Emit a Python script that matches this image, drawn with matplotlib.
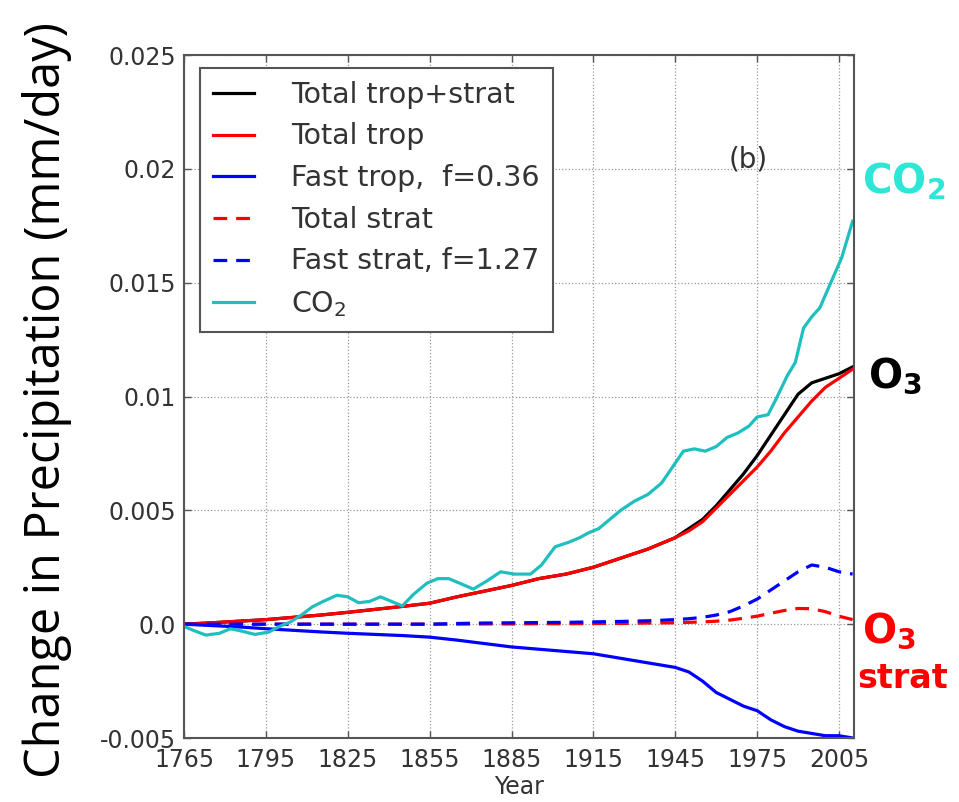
import matplotlib
matplotlib.use("Agg")
import matplotlib.pyplot as plt

# years for the smooth series
years = [1765, 1775, 1785, 1795, 1805, 1815, 1825, 1835, 1845, 1855, 1865,
         1875, 1885, 1895, 1905, 1915, 1925, 1935, 1945, 1950, 1955, 1960,
         1965, 1970, 1975, 1980, 1985, 1990, 1995, 2000, 2005, 2010]

total_trop_strat = [0.0, 0.00006, 0.00013, 0.0002, 0.0003, 0.0004, 0.00052,
                    0.00065, 0.00078, 0.00092, 0.0012, 0.00145, 0.0017, 0.002,
                    0.0022, 0.0025, 0.0029, 0.0033, 0.0038, 0.0042, 0.0046,
                    0.0052, 0.0059, 0.0066, 0.0074, 0.0083, 0.0092, 0.0101,
                    0.0106, 0.0108, 0.0110, 0.0113]

total_trop = [0.0, 0.00006, 0.00013, 0.0002, 0.0003, 0.0004, 0.00052, 0.00065,
              0.00078, 0.00092, 0.0012, 0.00145, 0.0017, 0.002, 0.0022, 0.0025,
              0.0029, 0.0033, 0.0038, 0.0041, 0.0045, 0.0051, 0.0057, 0.0063,
              0.0069, 0.0076, 0.0084, 0.0091, 0.0098, 0.0104, 0.0108, 0.0112]

fast_trop = [0.0, -0.00006, -0.00012, -0.0002, -0.00027, -0.00034, -0.0004,
             -0.00045, -0.0005, -0.00057, -0.0007, -0.00085, -0.001, -0.0011,
             -0.0012, -0.0013, -0.0015, -0.0017, -0.0019, -0.0021, -0.0025,
             -0.003, -0.0033, -0.0036, -0.0038, -0.0042, -0.0045, -0.0047,
             -0.0048, -0.0049, -0.0049, -0.005]

total_strat = [0.0, 0.0, 0.0, 0.0, 0.0, 0.0, 0.0, 0.0, 0.0, 0.0, 0.0, 0.00001,
               0.00001, 0.00002, 0.00002, 0.00003, 0.00003, 0.00005, 0.00006,
               0.00008, 0.0001, 0.00013, 0.00018, 0.00026, 0.00035, 0.00048,
               0.0006, 0.00069, 0.00068, 0.00055, 0.00035, 0.0002]

fast_strat = [0.0, 0.0, 0.0, 0.0, 0.0, 0.0, 0.0, 0.0, 0.0, 0.0, 0.00003,
              0.00005, 0.00006, 0.00007, 0.00008, 0.0001, 0.00012, 0.00015,
              0.0002, 0.00024, 0.0003, 0.0004, 0.00055, 0.0008, 0.0011,
              0.0015, 0.0019, 0.0023, 0.0026, 0.0025, 0.0023, 0.0022]

# CO2 is wiggly, so it gets its own finer year list
co2_years = [1765, 1769, 1773, 1778, 1782, 1786, 1791, 1796, 1800, 1804, 1808,
             1812, 1816, 1821, 1825, 1829, 1833, 1837, 1841, 1845, 1849, 1854,
             1858, 1862, 1866, 1871, 1876, 1881, 1886, 1892, 1896, 1901, 1906,
             1910, 1913, 1917, 1921, 1925, 1930, 1935, 1940, 1944, 1948, 1952,
             1956, 1960, 1964, 1968, 1972, 1975, 1979, 1982, 1986, 1989, 1992,
             1995, 1998, 2002, 2006, 2010]
co2 = [-0.0001, -0.0003, -0.00048, -0.0004, -0.0002, -0.0003, -0.00045,
       -0.00035, -0.0001, 0.0001, 0.0004, 0.00076, 0.001, 0.00127, 0.0012,
       0.00094, 0.001, 0.0012, 0.001, 0.0008, 0.0013, 0.0018, 0.002, 0.002,
       0.0018, 0.00154, 0.0019, 0.0023, 0.0022, 0.0022, 0.0026, 0.0034,
       0.0036, 0.0038, 0.004, 0.0042, 0.0046, 0.005, 0.0054, 0.0057, 0.0062,
       0.0069, 0.0076, 0.0077, 0.0076, 0.0078, 0.0082, 0.0084, 0.0087, 0.0091,
       0.0092, 0.0099, 0.0109, 0.0115, 0.013, 0.0135, 0.0139, 0.015, 0.0161,
       0.0177]

x_ticks = [1765, 1795, 1825, 1855, 1885, 1915, 1945, 1975, 2005]
y_ticks = [-0.005, 0.0, 0.005, 0.01, 0.015, 0.02, 0.025]
y_tick_labels = ["-0.005", "0.0", "0.005", "0.01", "0.015", "0.02", "0.025"]

fig = plt.figure(figsize=(9.59, 8.02), dpi=100)
ax = fig.add_axes([0.1919, 0.0798, 0.6986, 0.8516])

lw = 2.3
dash = (0, (4.3, 2.8))
ax.plot(years, total_trop_strat, color="black", lw=lw, label="Total trop+strat")
ax.plot(years, total_trop, color="#ff0000", lw=lw, label="Total trop")
ax.plot(years, fast_trop, color="#0000ff", lw=lw, label="Fast trop,  f=0.36")
ax.plot(years, total_strat, color="#ff0000", lw=lw, ls=dash, label="Total strat")
ax.plot(years, fast_strat, color="#0000ff", lw=lw, ls=dash, label="Fast strat, f=1.27")
ax.plot(co2_years, co2, color="#20bfbf", lw=lw, label="CO$_2$")

ax.set_xlim(1765, 2010.5)
ax.set_ylim(-0.005, 0.025)
ax.set_xticks(x_ticks)
ax.set_yticks(y_ticks)
ax.set_yticklabels(y_tick_labels)
ax.tick_params(direction="in", length=5, width=1, top=True, right=True,
               labelsize=17, labelcolor="#333333", color="#555555")
ax.tick_params(axis="y", pad=6)
ax.tick_params(axis="x", pad=7)
ax.grid(True, ls=":", color="#9a9a9a", lw=0.9)
for s in ax.spines.values():
    s.set_color("#555555")
    s.set_linewidth(1.5)

ax.set_xlabel("Year", fontsize=17, color="#333333", labelpad=2)
fig.text(0.049, 0.501, "Change in Precipitation (mm/day)", rotation=90,
         ha="center", va="center", fontsize=35, family="Open Sans",
         color="black")

ax.text(1971.7, 0.0204, "(b)", fontsize=20, color="#333333",
        ha="center", va="center")

leg = ax.legend(loc="upper left", bbox_to_anchor=(0.024, 0.981), borderaxespad=0,
                fontsize=20.5, labelspacing=0.48, handlelength=1.45,
                handletextpad=1.3, borderpad=0.45, fancybox=False,
                framealpha=1)
leg.get_frame().set_edgecolor("#555555")
leg.get_frame().set_linewidth(1.5)
for t in leg.get_texts():
    t.set_color("#333333")

# labels outside the axes on the right
fig.text(862 / 959, 1 - 193 / 802, r"$\mathbf{CO_2}$", fontsize=29,
         color="#2ce6d6", ha="left", va="baseline")
fig.text(868 / 959, 1 - 387 / 802, r"$\mathbf{O_3}$", fontsize=29,
         color="black", ha="left", va="baseline")
fig.text(862 / 959, 1 - 642 / 802, r"$\mathbf{O_3}$", fontsize=29,
         color="#ff0000", ha="left", va="baseline")
fig.text(857 / 959, 1 - 688 / 802, "strat", fontsize=24, fontweight="bold",
         color="#ff0000", ha="left", va="baseline")

fig.savefig("out.png", dpi=100)
